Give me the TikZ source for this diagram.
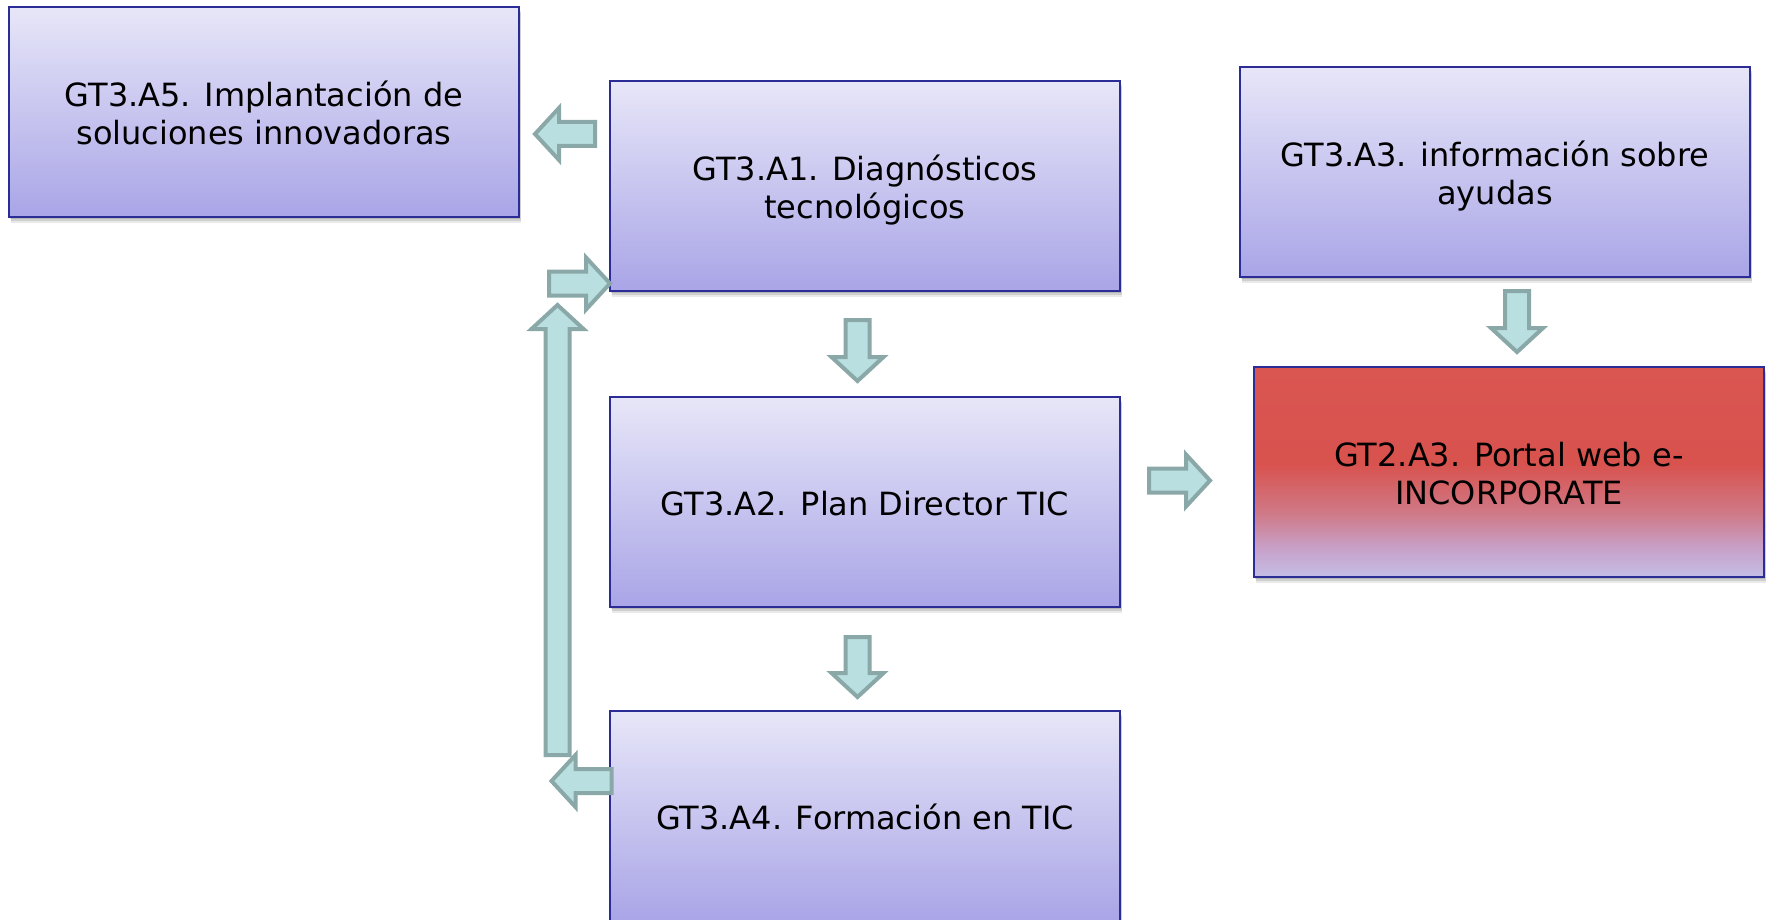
\documentclass[tikz,border=0pt]{standalone}
\usepackage{fontspec}
\setmainfont{DejaVu Sans}
\usetikzlibrary{calc,shadows}
\definecolor{boxtop}{RGB}{231,230,248}
\definecolor{boxbot}{RGB}{169,165,231}
\definecolor{boxline}{RGB}{44,44,150}
\definecolor{arrfill}{RGB}{186,223,225}
\definecolor{arrline}{RGB}{139,168,168}
\definecolor{gtredtop}{RGB}{218,86,81}
\definecolor{gtred}{RGB}{216,82,78}
\definecolor{gtpink}{RGB}{207,122,136}
\definecolor{gtmauve}{RGB}{200,160,200}
\definecolor{gtlav}{RGB}{196,190,230}
\pgfdeclareverticalshading{gtshade}{100bp}{color(0bp)=(gtlav); color(25bp)=(gtlav); color(32bp)=(gtmauve); color(40bp)=(gtpink); color(52bp)=(gtred); color(75bp)=(gtredtop); color(100bp)=(gtredtop)}
\newcommand{\btext}[1]{\raisebox{-3pt}[\height][\depth]{\begin{tabular}{@{}c@{}}#1\end{tabular}}}
\tikzset{
  box/.style={draw=boxline, line width=1pt, anchor=north west,
    minimum width=255pt, minimum height=105pt, inner sep=0pt, outer sep=0pt,
    font=\fontsize{16}{19}\selectfont,
    drop shadow={shadow xshift=0.4pt, shadow yshift=-1pt, opacity=0.25, fill=black!60},
    drop shadow={shadow xshift=0.8pt, shadow yshift=-2pt, opacity=0.2, fill=black!60},
    drop shadow={shadow xshift=1.2pt, shadow yshift=-3pt, opacity=0.14, fill=black!60}},
  bluebox/.style={box, top color=boxtop, bottom color=boxbot},
  redbox/.style={box, shading=gtshade},
  blockarr/.style={draw=arrline, fill=arrfill, line width=2pt, line join=miter}
}
% #1 centre, #2 direction angle, #3 half length
\newcommand{\blockarr}[3]{%
  \draw[blockarr, shift={#1}, rotate=#2]
    (-#3,-12) -- ({#3-24},-12) -- ({#3-24},-26) -- (#3,0) -- ({#3-24},26)
    -- ({#3-24},12) -- (-#3,12) -- cycle;}
\begin{document}
\begin{tikzpicture}[x=0.5pt,y=-0.5pt]
\useasboundingbox (0,0) rectangle (1768,920);
\clip (0,0) rectangle (1768,920);
\node[bluebox] (a5) at (9,7) {\btext{GT3.A5. Implantación de\\soluciones innovadoras}};
\node[bluebox] (a1) at (610,81) {\btext{GT3.A1. Diagnósticos\\tecnológicos}};
\node[bluebox] (a3) at (1240,67) {\btext{GT3.A3. información sobre\\ayudas}};
\node[bluebox] (a2) at (610,397) {\btext{GT3.A2. Plan Director TIC}};
\node[redbox] (gt2) at (1254,367) {\btext{GT2.A3. Portal web e-\\INCORPORATE}};
\node[bluebox] (a4) at (610,711) {\btext{GT3.A4. Formación en TIC}};
% block arrows
\blockarr{($(a1.north west)+(-45,53)$)}{180}{30}
\blockarr{($(a1.south west)+(-30.5,-7.5)$)}{0}{30.5}
\blockarr{($(a1.south west)+(-52.5,239)$)}{90}{225}
\blockarr{($(a4.north west)+(-28.5,70)$)}{180}{30}
\blockarr{($(a1.south)+(-7.5,59.5)$)}{-90}{30.5}
\blockarr{($(a2.south)+(-7.5,60)$)}{-90}{30}
\blockarr{($(gt2.west)+(-74.5,8.5)$)}{0}{30.5}
\blockarr{($(a3.south)+(22,44.5)$)}{-90}{30.5}
\end{tikzpicture}
\end{document}
